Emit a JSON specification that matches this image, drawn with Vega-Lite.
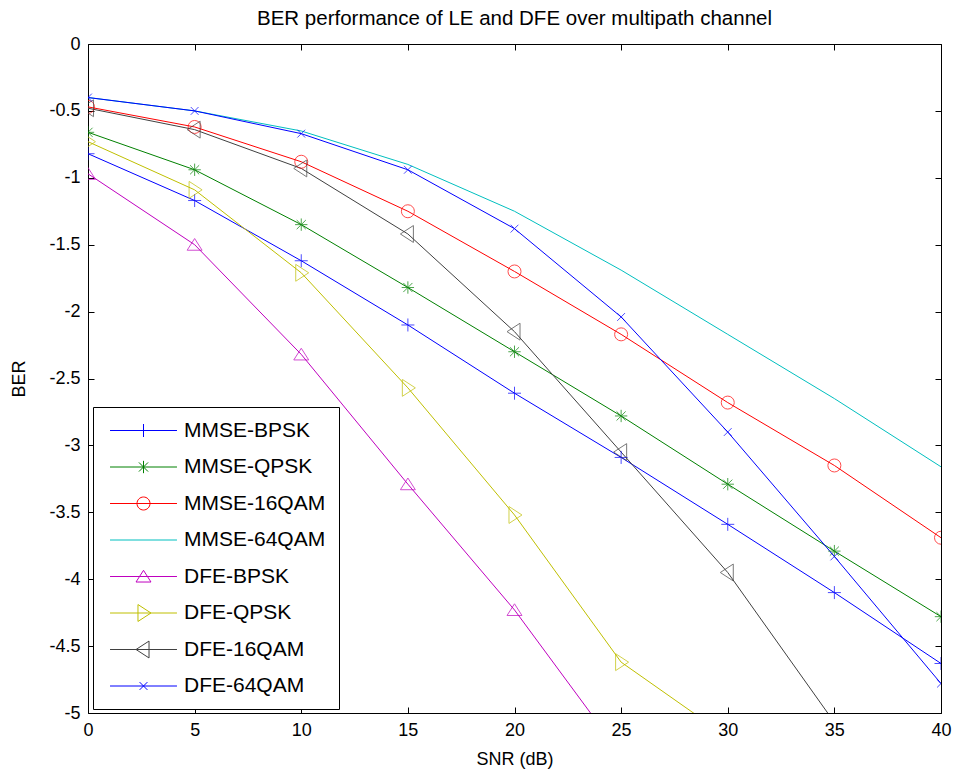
{
  "$schema": "https://vega.github.io/schema/vega-lite/v6.json",
  "width": 853,
  "height": 669,
  "autosize": {"type": "none"},
  "padding": {"left": 88, "top": 44, "right": 13, "bottom": 61},
  "background": "white",
  "title": {"text": "BER performance of LE and DFE over multipath channel", "fontSize": 20.5, "font": "Liberation Sans", "fontWeight": "normal", "color": "black", "offset": 6},
  "config": {
    "view": {"stroke": "black", "strokeWidth": 1},
    "axis": {"grid": false, "domain": false, "tickColor": "black", "tickSize": -6, "labelFlush": false, "labelColor": "black", "labelFont": "Liberation Sans", "labelFontSize": 18, "titleFont": "Liberation Sans", "titleFontSize": 18, "titleFontWeight": "normal", "titleColor": "black"},
    "point": {"filled": false, "strokeWidth": 1, "size": 169},
    "legend": {"orient": "none", "legendX": 5, "legendY": 363, "padding": 13, "strokeColor": "black", "fillColor": "white", "labelFont": "Liberation Sans", "labelFontSize": 21, "labelColor": "black", "symbolOpacity": 1, "symbolStrokeWidth": 1, "symbolSize": 169, "symbolOffset": 27, "labelOffset": 30, "rowPadding": 14.5, "cornerRadius": 0}
  },
  "data": {"values": [
    {"snr": 0, "ber": -0.82, "series": "MMSE-BPSK"},
    {"snr": 5, "ber": -1.17, "series": "MMSE-BPSK"},
    {"snr": 10, "ber": -1.62, "series": "MMSE-BPSK"},
    {"snr": 15, "ber": -2.1, "series": "MMSE-BPSK"},
    {"snr": 20, "ber": -2.61, "series": "MMSE-BPSK"},
    {"snr": 25, "ber": -3.09, "series": "MMSE-BPSK"},
    {"snr": 30, "ber": -3.59, "series": "MMSE-BPSK"},
    {"snr": 35, "ber": -4.1, "series": "MMSE-BPSK"},
    {"snr": 40, "ber": -4.63, "series": "MMSE-BPSK"},
    {"snr": 0, "ber": -0.66, "series": "MMSE-QPSK"},
    {"snr": 5, "ber": -0.94, "series": "MMSE-QPSK"},
    {"snr": 10, "ber": -1.35, "series": "MMSE-QPSK"},
    {"snr": 15, "ber": -1.82, "series": "MMSE-QPSK"},
    {"snr": 20, "ber": -2.3, "series": "MMSE-QPSK"},
    {"snr": 25, "ber": -2.78, "series": "MMSE-QPSK"},
    {"snr": 30, "ber": -3.29, "series": "MMSE-QPSK"},
    {"snr": 35, "ber": -3.79, "series": "MMSE-QPSK"},
    {"snr": 40, "ber": -4.28, "series": "MMSE-QPSK"},
    {"snr": 0, "ber": -0.47, "series": "MMSE-16QAM"},
    {"snr": 5, "ber": -0.62, "series": "MMSE-16QAM"},
    {"snr": 10, "ber": -0.88, "series": "MMSE-16QAM"},
    {"snr": 15, "ber": -1.25, "series": "MMSE-16QAM"},
    {"snr": 20, "ber": -1.7, "series": "MMSE-16QAM"},
    {"snr": 25, "ber": -2.17, "series": "MMSE-16QAM"},
    {"snr": 30, "ber": -2.68, "series": "MMSE-16QAM"},
    {"snr": 35, "ber": -3.15, "series": "MMSE-16QAM"},
    {"snr": 40, "ber": -3.69, "series": "MMSE-16QAM"},
    {"snr": 0, "ber": -0.4, "series": "MMSE-64QAM"},
    {"snr": 5, "ber": -0.5, "series": "MMSE-64QAM"},
    {"snr": 10, "ber": -0.65, "series": "MMSE-64QAM"},
    {"snr": 15, "ber": -0.9, "series": "MMSE-64QAM"},
    {"snr": 20, "ber": -1.25, "series": "MMSE-64QAM"},
    {"snr": 25, "ber": -1.69, "series": "MMSE-64QAM"},
    {"snr": 30, "ber": -2.17, "series": "MMSE-64QAM"},
    {"snr": 35, "ber": -2.65, "series": "MMSE-64QAM"},
    {"snr": 40, "ber": -3.16, "series": "MMSE-64QAM"},
    {"snr": 0, "ber": -0.97, "series": "DFE-BPSK"},
    {"snr": 5, "ber": -1.5, "series": "DFE-BPSK"},
    {"snr": 10, "ber": -2.32, "series": "DFE-BPSK"},
    {"snr": 15, "ber": -3.29, "series": "DFE-BPSK"},
    {"snr": 20, "ber": -4.23, "series": "DFE-BPSK"},
    {"snr": 25, "ber": -5.31, "series": "DFE-BPSK"},
    {"snr": 0, "ber": -0.73, "series": "DFE-QPSK"},
    {"snr": 5, "ber": -1.09, "series": "DFE-QPSK"},
    {"snr": 10, "ber": -1.71, "series": "DFE-QPSK"},
    {"snr": 15, "ber": -2.57, "series": "DFE-QPSK"},
    {"snr": 20, "ber": -3.52, "series": "DFE-QPSK"},
    {"snr": 25, "ber": -4.62, "series": "DFE-QPSK"},
    {"snr": 30, "ber": -5.18, "series": "DFE-QPSK"},
    {"snr": 0, "ber": -0.48, "series": "DFE-16QAM"},
    {"snr": 5, "ber": -0.64, "series": "DFE-16QAM"},
    {"snr": 10, "ber": -0.93, "series": "DFE-16QAM"},
    {"snr": 15, "ber": -1.42, "series": "DFE-16QAM"},
    {"snr": 20, "ber": -2.15, "series": "DFE-16QAM"},
    {"snr": 25, "ber": -3.05, "series": "DFE-16QAM"},
    {"snr": 30, "ber": -3.95, "series": "DFE-16QAM"},
    {"snr": 35, "ber": -5.07, "series": "DFE-16QAM"},
    {"snr": 0, "ber": -0.4, "series": "DFE-64QAM"},
    {"snr": 5, "ber": -0.5, "series": "DFE-64QAM"},
    {"snr": 10, "ber": -0.67, "series": "DFE-64QAM"},
    {"snr": 15, "ber": -0.94, "series": "DFE-64QAM"},
    {"snr": 20, "ber": -1.38, "series": "DFE-64QAM"},
    {"snr": 25, "ber": -2.04, "series": "DFE-64QAM"},
    {"snr": 30, "ber": -2.9, "series": "DFE-64QAM"},
    {"snr": 35, "ber": -3.83, "series": "DFE-64QAM"},
    {"snr": 40, "ber": -4.78, "series": "DFE-64QAM"}
  ]},
  "resolve": {"axis": {"x": "independent", "y": "independent"}},
  "layer": [
    {
      "mark": {"type": "line", "clip": true, "strokeWidth": 1},
      "encoding": {
        "x": {"field": "snr", "type": "quantitative", "scale": {"domain": [0, 40], "nice": false}, "axis": {"orient": "bottom", "values": [0, 5, 10, 15, 20, 25, 30, 35, 40], "title": "SNR (dB)", "labelPadding": 14, "titlePadding": 11}},
        "y": {"field": "ber", "type": "quantitative", "scale": {"domain": [-5, 0], "nice": false, "zero": false}, "axis": {"orient": "left", "values": [0, -0.5, -1, -1.5, -2, -2.5, -3, -3.5, -4, -4.5, -5], "labelExpr": "toString(datum.value)", "title": "BER", "labelPadding": 14, "titlePadding": 20}},
        "color": {"field": "series", "type": "nominal",
          "scale": {"domain": ["MMSE-BPSK", "MMSE-QPSK", "MMSE-16QAM", "MMSE-64QAM", "DFE-BPSK", "DFE-QPSK", "DFE-16QAM", "DFE-64QAM"],
                    "range": ["#0000ff", "#008000", "#ff0000", "#00bfbf", "#bf00bf", "#bfbf00", "#404040", "#0000ff"]},
          "legend": {"title": null}},
        "detail": {"field": "series"}
      }
    },
    {
      "transform": [{"filter": "datum.series == 'MMSE-BPSK'"}],
      "mark": {"type": "point", "clip": true, "shape": "M-1,0H1M0,-1V1"},
      "encoding": {
        "x": {"field": "snr", "type": "quantitative", "axis": {"orient": "top", "values": [0, 5, 10, 15, 20, 25, 30, 35, 40], "labels": false, "title": null}},
        "y": {"field": "ber", "type": "quantitative", "axis": {"orient": "right", "values": [0, -0.5, -1, -1.5, -2, -2.5, -3, -3.5, -4, -4.5, -5], "labels": false, "title": null}},
        "color": {"field": "series", "type": "nominal", "legend": {"title": null}}
      }
    },
    {
      "transform": [{"filter": "datum.series == 'MMSE-QPSK'"}],
      "mark": {"type": "point", "clip": true, "shape": "M-0.95,0H0.95M0,-0.95V0.95M-0.7,-0.7L0.7,0.7M-0.7,0.7L0.7,-0.7"},
      "encoding": {
        "x": {"field": "snr", "type": "quantitative", "axis": null},
        "y": {"field": "ber", "type": "quantitative", "axis": null},
        "color": {"field": "series", "type": "nominal", "legend": {"title": null}}
      }
    },
    {
      "transform": [{"filter": "datum.series == 'MMSE-16QAM'"}],
      "mark": {"type": "point", "clip": true, "shape": "circle"},
      "encoding": {
        "x": {"field": "snr", "type": "quantitative", "axis": null},
        "y": {"field": "ber", "type": "quantitative", "axis": null},
        "color": {"field": "series", "type": "nominal", "legend": {"title": null}}
      }
    },
    {
      "transform": [{"filter": "datum.series == 'DFE-BPSK'"}],
      "mark": {"type": "point", "clip": true, "shape": "M0,-0.95L1.15,0.85L-1.15,0.85Z"},
      "encoding": {
        "x": {"field": "snr", "type": "quantitative", "axis": null},
        "y": {"field": "ber", "type": "quantitative", "axis": null},
        "color": {"field": "series", "type": "nominal", "legend": {"title": null}}
      }
    },
    {
      "transform": [{"filter": "datum.series == 'DFE-QPSK'"}],
      "mark": {"type": "point", "clip": true, "shape": "M-0.85,-1.3L1.15,0L-0.85,1.3Z"},
      "encoding": {
        "x": {"field": "snr", "type": "quantitative", "axis": null},
        "y": {"field": "ber", "type": "quantitative", "axis": null},
        "color": {"field": "series", "type": "nominal", "legend": {"title": null}}
      }
    },
    {
      "transform": [{"filter": "datum.series == 'DFE-16QAM'"}],
      "mark": {"type": "point", "clip": true, "shape": "M0.85,-1.3L-1.15,0L0.85,1.3Z"},
      "encoding": {
        "x": {"field": "snr", "type": "quantitative", "axis": null},
        "y": {"field": "ber", "type": "quantitative", "axis": null},
        "color": {"field": "series", "type": "nominal", "legend": {"title": null}}
      }
    },
    {
      "transform": [{"filter": "datum.series == 'DFE-64QAM'"}],
      "mark": {"type": "point", "clip": true, "shape": "M-0.6,-0.6L0.6,0.6M-0.6,0.6L0.6,-0.6"},
      "encoding": {
        "x": {"field": "snr", "type": "quantitative", "axis": null},
        "y": {"field": "ber", "type": "quantitative", "axis": null},
        "color": {"field": "series", "type": "nominal", "legend": {"title": null}}
      }
    },
    {
      "transform": [{"filter": "datum.snr == 0"}],
      "mark": {"type": "point", "opacity": 0},
      "encoding": {
        "x": {"field": "snr", "type": "quantitative", "axis": null},
        "y": {"field": "ber", "type": "quantitative", "axis": null},
        "color": {"field": "series", "type": "nominal", "legend": {"title": null}},
        "shape": {"field": "series", "type": "nominal",
          "scale": {"domain": ["MMSE-BPSK", "MMSE-QPSK", "MMSE-16QAM", "MMSE-64QAM", "DFE-BPSK", "DFE-QPSK", "DFE-16QAM", "DFE-64QAM"],
                    "range": ["M-5.15,0H5.15M0,-1V1", "M-5.15,0H5.15M0,-0.95V0.95M-0.7,-0.7L0.7,0.7M-0.7,0.7L0.7,-0.7", "M-5.15,0H5.15M-1,0A1,1 0 1,1 1,0A1,1 0 1,1 -1,0", "M-5.15,0H5.15", "M-5.15,0H5.15M0,-0.95L1.15,0.85L-1.15,0.85Z", "M-5.15,0H5.15M-0.85,-1.3L1.15,0L-0.85,1.3Z", "M-5.15,0H5.15M0.85,-1.3L-1.15,0L0.85,1.3Z", "M-5.15,0H5.15M-0.6,-0.6L0.6,0.6M-0.6,0.6L0.6,-0.6"]},
          "legend": {"title": null}
        }
      }
    }
  ]
}
